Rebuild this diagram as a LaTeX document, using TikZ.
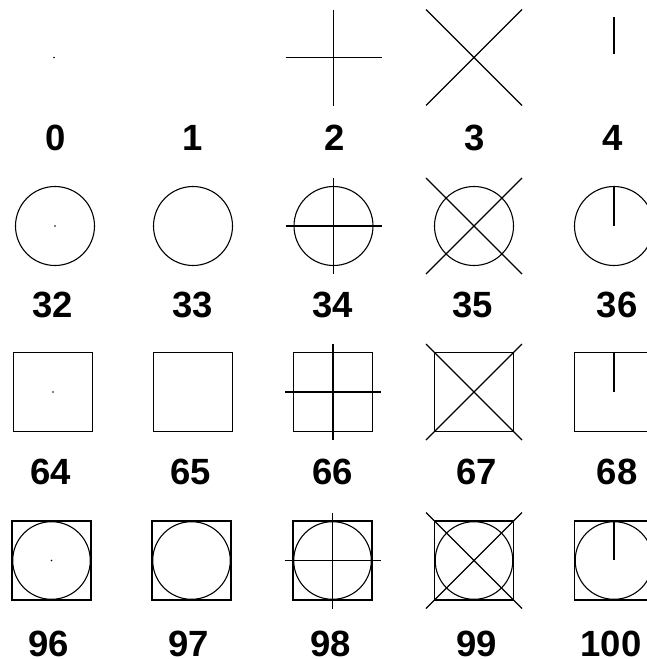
\documentclass[tikz,border=0pt]{standalone}
\usepackage{fontspec}
\setmainfont{Liberation Sans}
\begin{document}
\begin{tikzpicture}[x=1pt,y=-1pt,
  sym/.style={line width=1.1pt,black},
  lab/.style={anchor=base,inner sep=0pt,font=\bfseries\fontsize{36.5}{40}\selectfont},
  pdot/.pic={\fill[black] (0,0) circle[radius=0.9pt];},
  pplus/.pic={\draw[sym] (-48,0) -- (48,0) (0,-48) -- (0,48);},
  pcross/.pic={\draw[sym] (-48,-48) -- (48,48) (-48,48) -- (48,-48);},
  ptick/.pic={\draw[sym] (0,-0.5) -- (0,-40);},
  ptickone/.pic={\draw[sym] (0,-3.5) -- (0,-40.5);},
  pcirc/.pic={\draw[sym] (0,0) circle[radius=39.5pt];},
  pcircin/.pic={\draw[sym] (0,0) circle[radius=38.8pt];},
  psq/.pic={\draw[sym] (-39.5,-39.5) rectangle (39.5,39.5);}
]
\useasboundingbox (0,0) rectangle (646,659);
% symbol centres
\coordinate (c0) at (54,57.5);
\coordinate (c1) at (193,57.5);
\coordinate (c2) at (333.5,57.5);
\coordinate (c3) at (474,57.5);
\coordinate (c4) at (614,57.5);
\coordinate (c32) at (55,226);
\coordinate (c33) at (193,226);
\coordinate (c34) at (333.5,226);
\coordinate (c35) at (474,226);
\coordinate (c36) at (614,226);
\coordinate (c64) at (53,392);
\coordinate (c65) at (193,392);
\coordinate (c66) at (333,392);
\coordinate (c67) at (474,392);
\coordinate (c68) at (614,392);
\coordinate (c96) at (51.5,560.5);
\coordinate (c97) at (191.5,560.5);
\coordinate (c98) at (332.5,560.5);
\coordinate (c99) at (474,560.5);
\coordinate (c100) at (614,560.5);
% row 1
\pic at (c0) {pdot};
\pic at (c2) {pplus};
\pic at (c3) {pcross};
\pic at (c4) {ptickone};
% row 2
\pic at (c32) {pcirc}; \pic at (c32) {pdot};
\pic at (c33) {pcirc};
\pic at (c34) {pcirc}; \pic at (c34) {pplus};
\pic at (c35) {pcirc}; \pic at (c35) {pcross};
\pic at (c36) {pcirc}; \pic at (c36) {ptick};
% row 3
\pic at (c64) {psq}; \pic at (c64) {pdot};
\pic at (c65) {psq};
\pic at (c66) {psq}; \pic at (c66) {pplus};
\pic at (c67) {psq}; \pic at (c67) {pcross};
\pic at (c68) {psq}; \pic at (c68) {ptick};
% row 4
\pic at (c96) {psq}; \pic at (c96) {pcircin}; \pic at (c96) {pdot};
\pic at (c97) {psq}; \pic at (c97) {pcircin};
\pic at (c98) {psq}; \pic at (c98) {pcircin}; \pic at (c98) {pplus};
\pic at (c99) {psq}; \pic at (c99) {pcircin}; \pic at (c99) {pcross};
\pic at (c100) {psq}; \pic at (c100) {pcircin}; \pic at (c100) {ptick};
% labels
\node[lab] (l0) at (55.5,150) {0};
\node[lab] (l1) at (193,150) {1};
\node[lab] (l2) at (335,150) {2};
\node[lab] (l3) at (475,150) {3};
\node[lab] (l4) at (613,150) {4};
\node[lab] (l32) at (53,317) {32};
\node[lab] (l33) at (193,317) {33};
\node[lab] (l34) at (333,317) {34};
\node[lab] (l35) at (473,317) {35};
\node[lab] (l36) at (617,317) {36};
\node[lab] (l64) at (50.5,484.5) {64};
\node[lab] (l65) at (191,484.5) {65};
\node[lab] (l66) at (333,484.5) {66};
\node[lab] (l67) at (477,484.5) {67};
\node[lab] (l68) at (617,484.5) {68};
\node[lab] (l96) at (49,656.5) {96};
\node[lab] (l97) at (189,656.5) {97};
\node[lab] (l98) at (331,656.5) {98};
\node[lab] (l99) at (477,656.5) {99};
\node[lab] (l100) at (611,656.5) {100};
\end{tikzpicture}
\end{document}
